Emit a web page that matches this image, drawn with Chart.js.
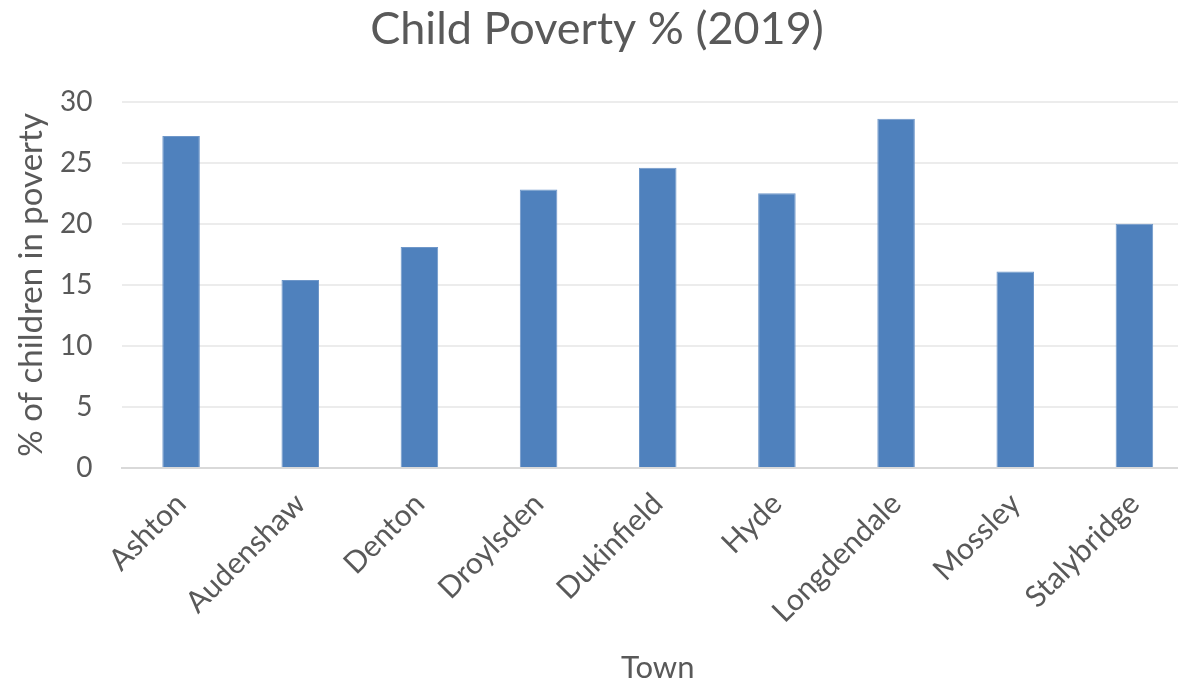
<!DOCTYPE html>
<html>
<head>
<meta charset="utf-8">
<script src="https://cdn.jsdelivr.net/npm/chart.js@4/dist/chart.umd.min.js"></script>
<style>
html,body{margin:0;padding:0;overflow:hidden;background:#fff;}
#wrap{width:1194px;height:683px;}
canvas{display:block;}
</style>
</head>
<body>
<div id="wrap"><canvas id="c" width="1194" height="683"></canvas></div>
<script>
const towns = ["Ashton","Audenshaw","Denton","Droylsden","Dukinfield","Hyde","Longdendale","Mossley","Stalybridge"];
const povertyPct = [27.2, 15.4, 18.1, 22.8, 24.6, 22.5, 28.6, 16.1, 20.0];
const yTicks = [0, 5, 10, 15, 20, 25, 30];

const FONT = "Lato";
const TXT = "#595959";

new Chart(document.getElementById('c'), {
  type: 'bar',
  data: {
    labels: towns,
    datasets: [{
      label: '% of children in poverty',
      data: povertyPct,
      backgroundColor: '#4f81bd',
      borderColor: '#6f97c9',
      borderWidth: 1,
      categoryPercentage: 1,
      barPercentage: 0.315
    }]
  },
  options: {
    responsive: false,
    animation: false,
    layout: { padding: 0 },
    plugins: {
      legend: { display: false },
      tooltip: { enabled: false },
      title: {
        display: true,
        text: 'Child Poverty % (2019)',
        color: TXT,
        font: { family: FONT, size: 45, weight: 'normal', lineHeight: 1.2 },
        padding: { top: 2, bottom: 45.7 }
      }
    },
    scales: {
      x: {
        grid: { display: false, drawTicks: false },
        border: { display: true, color: '#d9d9d9', width: 2 },
        ticks: {
          color: TXT,
          font: { family: FONT, size: 30 },
          minRotation: 45, maxRotation: 45,
          padding: 18,
          autoSkip: false
        },
        title: {
          display: true, text: 'Town', color: TXT,
          font: { family: FONT, size: 31, lineHeight: 1 },
          padding: { top: 0, bottom: 0 }
        },
        afterFit: (s) => { s.height = 215; }
      },
      y: {
        min: 0, max: 30,
        afterBuildTicks: (s) => { s.ticks = yTicks.map(v => ({ value: v })); },
        grid: { color: '#ececec', lineWidth: 2, drawTicks: false },
        border: { display: false },
        ticks: {
          color: TXT,
          font: { family: FONT, size: 28 },
          padding: 29
        },
        title: {
          display: true, text: '% of children in poverty', color: TXT,
          font: { family: FONT, size: 33, lineHeight: 1.2 },
          padding: { top: 12, bottom: 0 }
        },
        afterFit: (s) => { s.width = 121.5; }
      }
    }
  }
});
</script>
</body>
</html>
